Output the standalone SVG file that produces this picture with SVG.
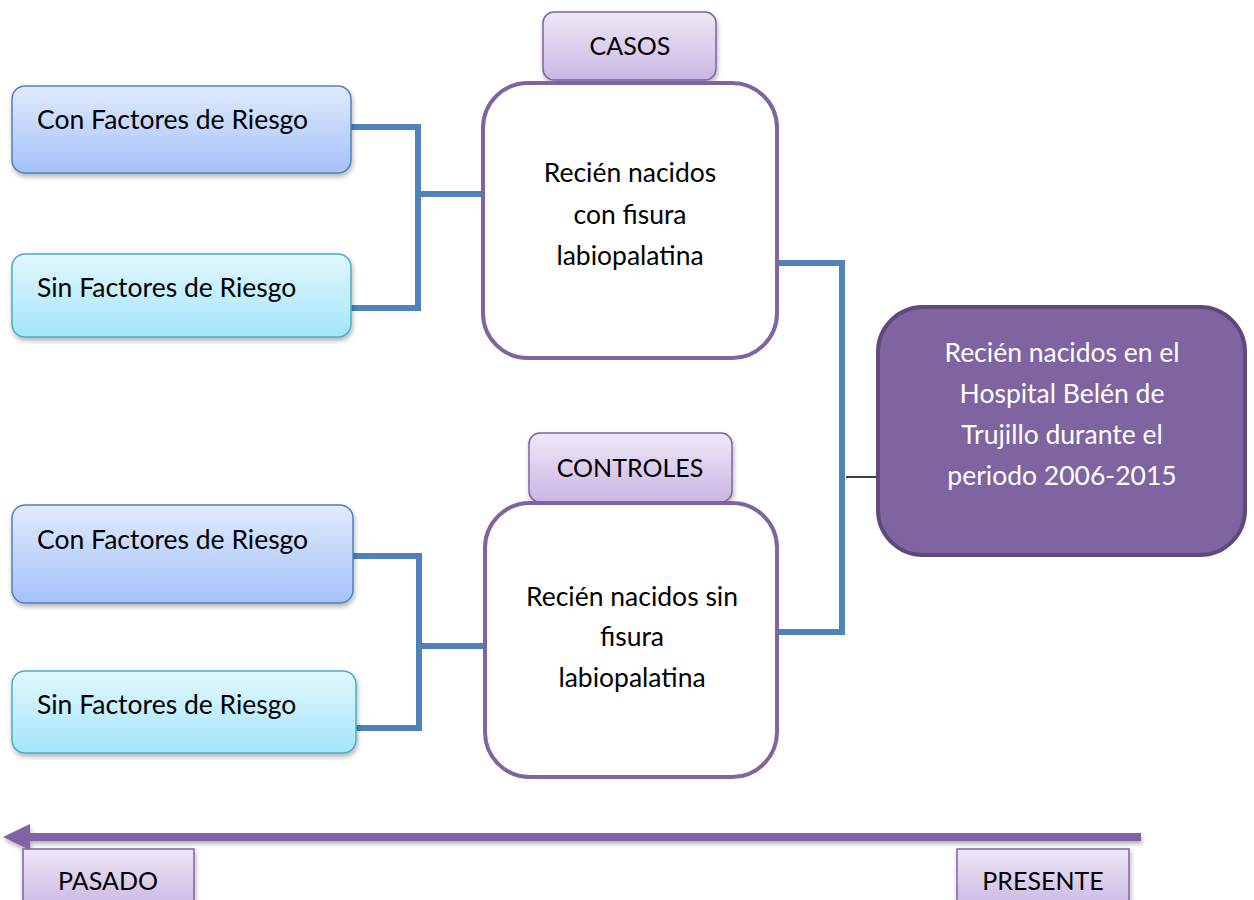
<svg xmlns="http://www.w3.org/2000/svg" width="1254" height="900" viewBox="0 0 1254 900">
<defs>
<linearGradient id="gBlue" x1="0" y1="0" x2="0" y2="1"><stop offset="0" stop-color="#e0eafd"/><stop offset="1" stop-color="#a4c2f9"/></linearGradient>
<linearGradient id="gCyan" x1="0" y1="0" x2="0" y2="1"><stop offset="0" stop-color="#e2f7fe"/><stop offset="1" stop-color="#a3e6fa"/></linearGradient>
<linearGradient id="gLav" x1="0" y1="0" x2="0" y2="1"><stop offset="0" stop-color="#efe8f7"/><stop offset="1" stop-color="#c9b6e3"/></linearGradient>
<filter id="sh" x="-10%" y="-10%" width="125%" height="140%"><feDropShadow dx="1" dy="3" stdDeviation="2.5" flood-color="#000" flood-opacity="0.3"/></filter>
<filter id="shL" filterUnits="userSpaceOnUse" x="0" y="810" width="1160" height="50"><feDropShadow dx="1" dy="3" stdDeviation="2" flood-color="#000" flood-opacity="0.3"/></filter>
</defs>
<style>
.t{font-family:Lato,"Liberation Sans",sans-serif;font-size:26.5px;fill:#000}
.k{font-size:25px}
.c{text-anchor:middle}
.w{fill:#fff}
.blue{fill:url(#gBlue);stroke:#4f81bd;stroke-width:1.5}
.cyan{fill:url(#gCyan);stroke:#4bacc6;stroke-width:1.5}
.lav{fill:url(#gLav);stroke:#8064a2;stroke-width:1.5}
.main{fill:#fff;stroke:#8064a2;stroke-width:4}
.conn{fill:none;stroke:#4f81bd;stroke-width:6;stroke-linejoin:miter}
</style>
<g id="connectors">
<path class="conn" d="M351,127 H418 V308 H351 M418,194 H485"/>
<path class="conn" d="M353,556 H419 V728 H356 M419,646 H487"/>
<path class="conn" d="M772,263 H842 V632 H777"/>
<path d="M846,477 H876" stroke="#000" stroke-width="1.5"/>
</g>
<g id="con1"><rect class="blue" x="12" y="86" width="339" height="87" rx="13" filter="url(#sh)"/><text class="t" x="37" y="129">Con Factores de Riesgo</text></g>
<g id="sin1"><rect class="cyan" x="12" y="254" width="339" height="83" rx="13" filter="url(#sh)"/><text class="t" x="37" y="297">Sin Factores de Riesgo</text></g>
<g id="con2"><rect class="blue" x="12" y="505" width="341" height="98" rx="13" filter="url(#sh)"/><text class="t" x="37" y="549">Con Factores de Riesgo</text></g>
<g id="sin2"><rect class="cyan" x="12" y="671" width="344" height="82" rx="13" filter="url(#sh)"/><text class="t" x="37" y="714">Sin Factores de Riesgo</text></g>
<g id="casos"><rect class="lav" x="543" y="12" width="173" height="68" rx="11" filter="url(#sh)"/><text class="t k c" x="630" y="55">CASOS</text></g>
<g id="casos-box"><rect class="main" x="483" y="83" width="294" height="275" rx="45"/>
<text class="t c" x="630" y="182">Recién nacidos</text><text class="t c" x="630" y="224">con fisura</text><text class="t c" x="630" y="265">labiopalatina</text></g>
<g id="controles"><rect class="lav" x="529" y="433" width="203" height="69" rx="11" filter="url(#sh)"/><text class="t k c" x="630" y="477">CONTROLES</text></g>
<g id="controles-box"><rect class="main" x="485" y="503" width="292" height="274" rx="45"/>
<text class="t c" x="632" y="606">Recién nacidos sin</text><text class="t c" x="632" y="646">fisura</text><text class="t c" x="632" y="687">labiopalatina</text></g>
<g id="poblacion"><rect x="878" y="307" width="367" height="248" rx="45" fill="#8064a2" stroke="#5f497a" stroke-width="4"/>
<text class="t c w" x="1062" y="362">Recién nacidos en el</text><text class="t c w" x="1062" y="403">Hospital Belén de</text><text class="t c w" x="1062" y="444">Trujillo durante el</text><text class="t c w" x="1062" y="485">periodo 2006-2015</text></g>
<g id="timeline"><path d="M1141,833 H30 V824 L3,837 L30,850 V841 H1141 Z" fill="#8064a2" filter="url(#shL)"/></g>
<g id="pasado"><rect class="lav" x="23" y="849" width="171" height="60" filter="url(#sh)"/><text class="t k c" x="108" y="890">PASADO</text></g>
<g id="presente"><rect class="lav" x="957" y="849" width="172" height="60" filter="url(#sh)"/><text class="t k c" x="1043" y="890">PRESENTE</text></g>
</svg>
